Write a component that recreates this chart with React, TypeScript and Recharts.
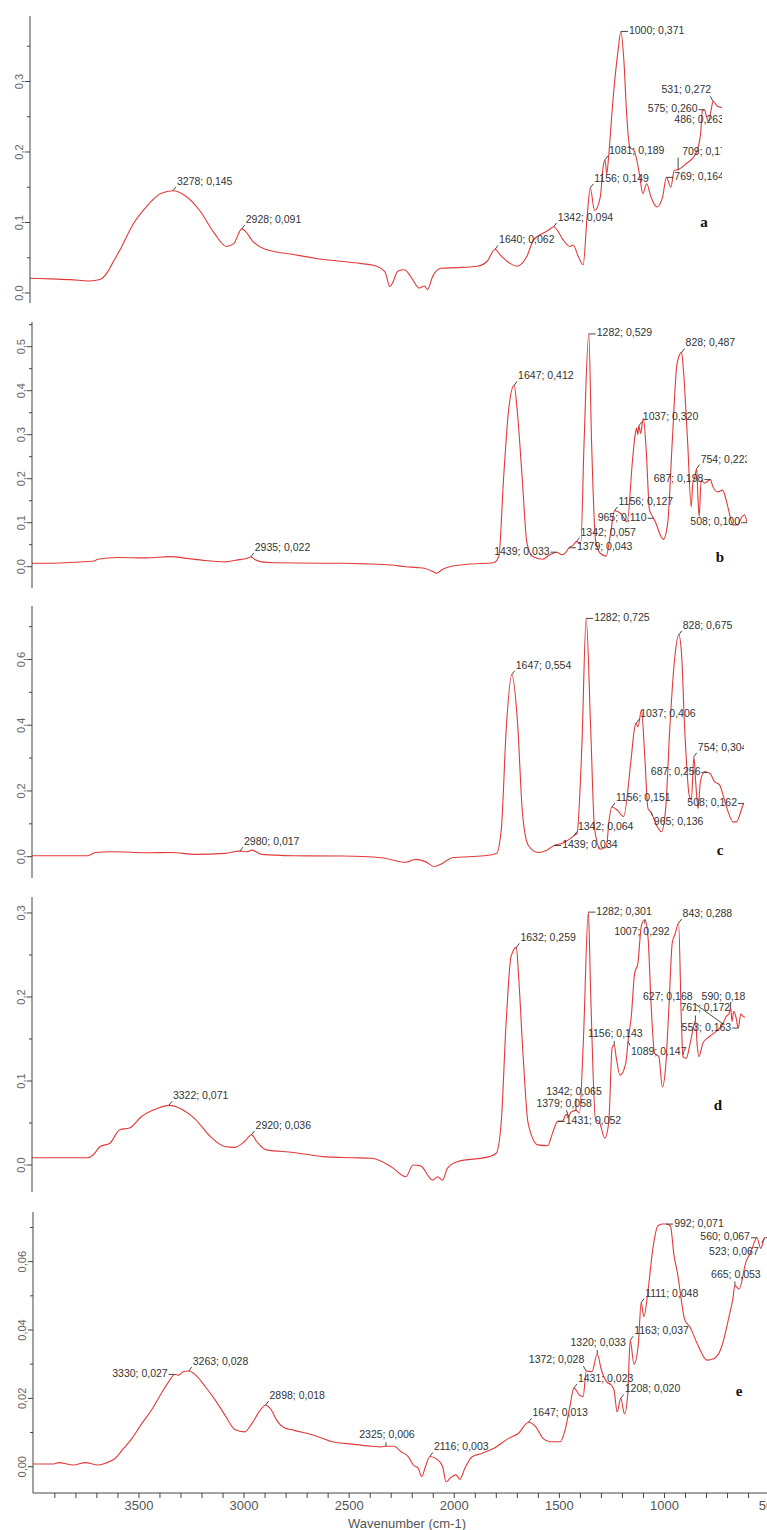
import React from 'react';
import { ComposedChart, Line, Scatter, XAxis, YAxis } from 'recharts';

const LINE_COLOR = '#e23a3a';
const INK = '#333';
const AXIS = '#444';
const SANS = "'Liberation Sans', Arial, sans-serif";
const SERIF = "'Liberation Serif', 'Times New Roman', serif";

// ---------- spectrum a ----------
const waveA = [4005, 3900, 3800, 3700, 3650, 3610, 3586, 3540, 3488, 3414, 3340, 3216, 3142, 3068, 3006, 2969, 2908, 2871, 2809, 2673, 2550, 2427, 2328, 2254, 2200, 2175, 2160, 2135, 2101, 2068, 2025, 2000, 1983, 1958, 1916, 1835, 1731, 1680, 1614, 1564, 1529, 1478, 1445, 1394, 1369, 1293, 1260, 1243, 1217, 1192, 1172, 1134, 1105, 1090, 1072, 1063, 1041, 1015, 985, 970, 955, 933, 906, 889, 869, 847, 817, 788, 746, 729, 670, 620, 595, 586, 565, 553, 540, 510];
const absA = [0.021, 0.020, 0.019, 0.017, 0.019, 0.030, 0.042, 0.065, 0.094, 0.122, 0.141, 0.138, 0.117, 0.085, 0.066, 0.070, 0.087, 0.073, 0.062, 0.055, 0.049, 0.045, 0.042, 0.039, 0.030, 0.009, 0.015, 0.031, 0.033, 0.023, 0.007, 0.010, 0.005, 0.023, 0.035, 0.036, 0.038, 0.045, 0.054, 0.042, 0.038, 0.052, 0.075, 0.085, 0.089, 0.075, 0.066, 0.068, 0.052, 0.040, 0.108, 0.117, 0.136, 0.180, 0.169, 0.192, 0.272, 0.343, 0.330, 0.250, 0.207, 0.202, 0.169, 0.141, 0.155, 0.136, 0.122, 0.136, 0.150, 0.174, 0.183, 0.197, 0.225, 0.258, 0.250, 0.244, 0.262, 0.265];
const peakWaveA = [3278, 2928, 1640, 1342, 1156, 1081, 1000, 769, 709, 575, 531, 486];
const peakAbsA = [0.145, 0.091, 0.062, 0.094, 0.149, 0.189, 0.371, 0.164, 0.175, 0.260, 0.272, 0.263];
const peakPlaceA = ['ur', 'ur', 'ur', 'ur', 'ur', 'ur', 'r', 'r', 'tallUp', 'l', 'ul', 'belowLeft'];

// ---------- spectrum b ----------
const waveB = [4005, 3900, 3800, 3700, 3684, 3588, 3450, 3326, 3250, 3157, 3062, 2990, 2960, 2910, 2883, 2823, 2600, 2488, 2345, 2250, 2177, 2120, 2082, 2040, 2026, 2000, 1962, 1866, 1747, 1722, 1698, 1674, 1632, 1608, 1584, 1555, 1508, 1472, 1413, 1395, 1360, 1321, 1305, 1268, 1249, 1225, 1197, 1173, 1125, 1094, 1068, 1055, 1048, 1042, 1028, 1015, 1001, 985, 953, 928, 917, 896, 874, 850, 819, 798, 781, 773, 765, 748, 742, 732, 716, 675, 651, 627, 610, 594, 578, 553, 537, 520];
const absB = [0.008, 0.008, 0.010, 0.013, 0.017, 0.021, 0.020, 0.023, 0.019, 0.014, 0.011, 0.016, 0.018, 0.015, 0.011, 0.009, 0.008, 0.008, 0.006, 0.004, 0.000, -0.002, -0.004, -0.012, -0.015, -0.007, 0.000, 0.006, 0.009, 0.023, 0.205, 0.356, 0.356, 0.205, 0.053, 0.023, 0.017, 0.027, 0.027, 0.032, 0.048, 0.053, 0.280, 0.280, 0.061, 0.030, 0.024, 0.083, 0.121, 0.102, 0.242, 0.300, 0.315, 0.300, 0.303, 0.337, 0.265, 0.129, 0.098, 0.068, 0.062, 0.098, 0.280, 0.462, 0.447, 0.280, 0.136, 0.189, 0.200, 0.159, 0.114, 0.197, 0.190, 0.182, 0.170, 0.174, 0.152, 0.121, 0.095, 0.095, 0.110, 0.118];
const peakWaveB = [2935, 1647, 1439, 1379, 1342, 1282, 1156, 1037, 965, 828, 754, 687, 508];
const peakAbsB = [0.022, 0.412, 0.033, 0.043, 0.057, 0.529, 0.127, 0.320, 0.110, 0.487, 0.223, 0.198, 0.100];
const peakPlaceB = ['ur', 'ur', 'l', 'r', 'ur', 'r', 'ur', 'ur', 'l', 'ur', 'ur', 'l', 'l'];

// ---------- spectrum c ----------
const waveC = [4000, 3725, 3689, 3605, 3437, 3318, 3197, 3053, 2946, 2921, 2874, 2718, 2478, 2286, 2166, 2118, 2071, 2027, 1986, 1939, 1783, 1722, 1698, 1674, 1619, 1595, 1566, 1518, 1475, 1399, 1360, 1327, 1303, 1260, 1241, 1212, 1183, 1170, 1130, 1099, 1063, 1045, 1028, 1011, 995, 979, 937, 913, 892, 872, 848, 815, 799, 777, 766, 745, 733, 722, 701, 676, 652, 627, 611, 586, 562, 545, 529, 513];
const absC = [0.003, 0.003, 0.013, 0.015, 0.012, 0.013, 0.007, 0.010, 0.015, 0.020, 0.007, 0.003, 0.002, -0.003, -0.017, -0.008, -0.015, -0.030, -0.020, -0.003, 0.003, 0.010, 0.086, 0.390, 0.411, 0.137, 0.035, 0.013, 0.020, 0.041, 0.055, 0.071, 0.340, 0.390, 0.086, 0.023, 0.030, 0.110, 0.142, 0.122, 0.289, 0.390, 0.395, 0.446, 0.309, 0.147, 0.096, 0.076, 0.147, 0.390, 0.603, 0.624, 0.390, 0.188, 0.172, 0.228, 0.147, 0.228, 0.259, 0.254, 0.228, 0.218, 0.188, 0.137, 0.106, 0.106, 0.127, 0.157];
const peakWaveC = [2980, 1647, 1439, 1342, 1282, 1156, 1037, 965, 828, 754, 687, 508];
const peakAbsC = [0.017, 0.554, 0.034, 0.064, 0.725, 0.151, 0.406, 0.136, 0.675, 0.304, 0.256, 0.162];
const peakPlaceC = ['ur', 'ur', 'r', 'ur', 'r', 'ur', 'ur', 'dr', 'ur', 'ur', 'l', 'l'];

// ---------- spectrum d ----------
const waveD = [3988, 3716, 3691, 3656, 3609, 3561, 3514, 3454, 3382, 3264, 3192, 3121, 3050, 3002, 2954, 2895, 2848, 2717, 2574, 2431, 2336, 2241, 2170, 2134, 2098, 2039, 2015, 1991, 1968, 1920, 1765, 1730, 1706, 1682, 1658, 1622, 1599, 1575, 1527, 1480, 1456, 1409, 1390, 1366, 1325, 1306, 1271, 1247, 1230, 1202, 1183, 1166, 1147, 1128, 1100, 1073, 1057, 1041, 1024, 992, 976, 960, 939, 922, 906, 890, 874, 860, 830, 822, 806, 790, 774, 752, 744, 725, 692, 660, 611, 598, 583, 575, 563, 540, 530, 520];
const absD = [0.0087, 0.0087, 0.012, 0.022, 0.026, 0.042, 0.044, 0.058, 0.067, 0.067, 0.054, 0.034, 0.022, 0.021, 0.028, 0.028, 0.018, 0.015, 0.010, 0.0087, 0.008, -0.002, -0.014, 0.000, -0.001, -0.018, -0.014, -0.018, -0.004, 0.004, 0.010, 0.014, 0.050, 0.169, 0.248, 0.228, 0.129, 0.050, 0.024, 0.023, 0.038, 0.052, 0.060, 0.063, 0.062, 0.149, 0.208, 0.054, 0.052, 0.032, 0.050, 0.140, 0.129, 0.107, 0.121, 0.177, 0.228, 0.240, 0.285, 0.272, 0.188, 0.133, 0.129, 0.093, 0.117, 0.188, 0.264, 0.275, 0.177, 0.129, 0.127, 0.141, 0.160, 0.141, 0.129, 0.145, 0.153, 0.159, 0.177, 0.180, 0.171, 0.183, 0.175, 0.180, 0.177, 0.176];
const peakWaveD = [3322, 2920, 1632, 1431, 1379, 1342, 1282, 1156, 1089, 1007, 843, 761, 627, 590, 553];
const peakAbsD = [0.071, 0.036, 0.259, 0.052, 0.058, 0.065, 0.301, 0.143, 0.147, 0.292, 0.288, 0.172, 0.168, 0.187, 0.163];
const peakPlaceD = ['ur', 'ur', 'ur', 'r', 'leftUp', 'tallCenter', 'r', 'u', 'dr', 'belowCenter', 'ur', 'shortUp', 'diagonal', 'markUp', 'l'];

// ---------- spectrum e ----------
const waveE = [4004, 3905, 3882, 3812, 3754, 3696, 3661, 3614, 3579, 3533, 3486, 3440, 3393, 3358, 3312, 3288, 3230, 3184, 3137, 3091, 3044, 2998, 2962, 2928, 2870, 2846, 2811, 2765, 2672, 2579, 2485, 2392, 2350, 2288, 2253, 2218, 2195, 2171, 2155, 2137, 2078, 2055, 2039, 2015, 1992, 1973, 1950, 1915, 1869, 1811, 1741, 1694, 1613, 1578, 1543, 1496, 1473, 1450, 1404, 1387, 1345, 1300, 1276, 1253, 1240, 1225, 1190, 1175, 1145, 1124, 1098, 1078, 1054, 1031, 1010, 972, 955, 938, 903, 880, 845, 798, 763, 728, 693, 675, 645, 612, 589, 542, 507, 485];
const absE = [0.0008, 0.0008, 0.0012, 0.0005, 0.0012, 0.0005, 0.001, 0.0024, 0.0049, 0.0083, 0.0127, 0.0166, 0.0215, 0.0249, 0.0268, 0.0278, 0.0268, 0.0234, 0.0195, 0.0151, 0.0109, 0.0102, 0.0127, 0.0161, 0.0166, 0.0137, 0.0115, 0.0107, 0.0093, 0.0073, 0.0066, 0.006, 0.0058, 0.006, 0.0044, 0.0029, 0.0005, -0.0005, -0.0029, 0.0, 0.002, 0.0, -0.0044, -0.0031, -0.0024, -0.0037, -0.0005, 0.0029, 0.0039, 0.0054, 0.0083, 0.0098, 0.0117, 0.0083, 0.0073, 0.0073, 0.0107, 0.0176, 0.021, 0.0205, 0.0278, 0.0283, 0.0249, 0.0239, 0.0225, 0.016, 0.0155, 0.021, 0.030, 0.0361, 0.0439, 0.0517, 0.0644, 0.0705, 0.071, 0.0705, 0.062, 0.0566, 0.0429, 0.041, 0.0361, 0.0312, 0.0317, 0.0351, 0.0439, 0.049, 0.052, 0.060, 0.0629, 0.0639, 0.067, 0.066];
const peakWaveE = [3330, 3263, 2898, 2325, 2116, 1647, 1431, 1372, 1320, 1208, 1163, 1111, 992, 665, 560, 523];
const peakAbsE = [0.027, 0.028, 0.018, 0.006, 0.003, 0.013, 0.023, 0.028, 0.033, 0.020, 0.037, 0.048, 0.071, 0.053, 0.067, 0.067];
const peakPlaceE = ['l', 'ur', 'ur', 'u', 'ur', 'ur', 'ur', 'ul', 'u', 'ur', 'ur', 'ur', 'r', 'u', 'l', 'dl'];

// ---------- axis ticks ----------
const yTicksA = [0, 0.05, 0.1, 0.15, 0.2, 0.25, 0.3, 0.35];
const yLabelsA = [0, 0.1, 0.2, 0.3];
const yTicksB = [0, 0.05, 0.1, 0.15, 0.2, 0.25, 0.3, 0.35, 0.4, 0.45, 0.5, 0.55];
const yLabelsB = [0, 0.1, 0.2, 0.3, 0.4, 0.5];
const yTicksC = [0, 0.1, 0.2, 0.3, 0.4, 0.5, 0.6, 0.7];
const yLabelsC = [0, 0.2, 0.4, 0.6];
const yTicksD = [0, 0.05, 0.1, 0.15, 0.2, 0.25, 0.3];
const yLabelsD = [0, 0.1, 0.2, 0.3];
const yTicksE = [0, 0.01, 0.02, 0.03, 0.04, 0.05, 0.06, 0.07];
const yLabelsE = [0, 0.02, 0.04, 0.06];
const xTicksE = [3900, 3800, 3700, 3600, 3500, 3400, 3300, 3200, 3100, 3000, 2900, 2800, 2700, 2600, 2500, 2400, 2300, 2200, 2100, 2000, 1900, 1800, 1700, 1600, 1500, 1400, 1300, 1200, 1100, 1000, 900, 800, 700, 600, 500];
const xLabelsE = [3500, 3000, 2500, 2000, 1500, 1000, 500];

// ---------- label placement (text offset, anchor, leader end) ----------
type Place = { dx: number; dy: number; anchor: 'start' | 'middle' | 'end'; lx: number; ly: number };
const PLACES: Record<string, Place> = {
  ur: { dx: 4, dy: -6, anchor: 'start', lx: 3, ly: -4 },
  r: { dx: 8, dy: 2.5, anchor: 'start', lx: 7, ly: 0 },
  l: { dx: -7, dy: 2.5, anchor: 'end', lx: -6, ly: 0 },
  ul: { dx: -2, dy: -8, anchor: 'end', lx: -3, ly: -5 },
  u: { dx: 1, dy: -8, anchor: 'middle', lx: 0, ly: -4 },
  dr: { dx: 3, dy: 13, anchor: 'start', lx: 2, ly: 4 },
  dl: { dx: -6, dy: 17, anchor: 'end', lx: -3, ly: 5 },
  tallUp: { dx: 4, dy: -15, anchor: 'start', lx: 0, ly: -12 },
  belowLeft: { dx: 2, dy: 15, anchor: 'end', lx: 0, ly: 0 },
  leftUp: { dx: -32, dy: -9, anchor: 'start', lx: -2, ly: -6 },
  tallCenter: { dx: -2, dy: -15, anchor: 'middle', lx: 0, ly: -12 },
  belowCenter: { dx: -3, dy: 15, anchor: 'middle', lx: 0, ly: 4 },
  shortUp: { dx: -15, dy: -10, anchor: 'start', lx: 0, ly: -5 },
  diagonal: { dx: -80, dy: -24, anchor: 'start', lx: -28, ly: -20 },
  markUp: { dx: -29, dy: -8, anchor: 'start', lx: 0, ly: -6 },
};

type Row = { w: number; v: number };
type Peak = Row & { place: string };

function buildRows(waves: number[], vals: number[], pw: number[], pv: number[]): Row[] {
  const rows: Row[] = waves.map((w, i) => ({ w, v: vals[i] }));
  pw.forEach((w, i) => {
    const k = rows.findIndex((r) => r.w === w);
    if (k >= 0) rows[k].v = pv[i];
    else rows.push({ w, v: pv[i] });
  });
  return rows.sort((a, b) => b.w - a.w);
}

function buildPeaks(pw: number[], pv: number[], places: string[]): Peak[] {
  return pw.map((w, i) => ({ w, v: pv[i], place: places[i] }));
}

const fmt = (v: number, d: number) => v.toFixed(d).replace('.', ',');

function PeakMark(props: any) {
  const { cx, cy, payload } = props;
  if (cx == null || cy == null || !payload) return null;
  const p = PLACES[payload.place] || PLACES.ur;
  return (
    <g>
      {(p.lx !== 0 || p.ly !== 0) && (
        <line x1={cx} y1={cy} x2={cx + p.lx} y2={cy + p.ly} stroke={INK} strokeWidth={0.9} />
      )}
      <text
        x={cx + p.dx}
        y={cy + p.dy}
        textAnchor={p.anchor}
        fontSize={10.5}
        fontFamily={SANS}
        fill={INK}
      >
        {`${payload.w}; ${fmt(payload.v, 3)}`}
      </text>
    </g>
  );
}

const yTickRenderer = (labels: number[], digits: number) => (props: any) => {
  const { x, y, payload } = props;
  const v = payload.value as number;
  const major = labels.some((l) => Math.abs(l - v) < 1e-9);
  const tx = x - 7;
  return (
    <g>
      <line x1={x} x2={x - (major ? 5 : 3)} y1={y} y2={y} stroke={AXIS} strokeWidth={1} />
      {major && (
        <text
          x={tx}
          y={y}
          transform={`rotate(-90 ${tx} ${y})`}
          textAnchor="middle"
          fontSize={11}
          fontFamily={SANS}
          fill="#666"
        >
          {fmt(v, digits)}
        </text>
      )}
    </g>
  );
};

const xTickRenderer = (labels: number[]) => (props: any) => {
  const { x, y, payload } = props;
  const v = payload.value as number;
  const major = labels.includes(v);
  return (
    <g>
      <line x1={x} x2={x} y1={y} y2={y + 5} stroke={AXIS} strokeWidth={1} />
      {major && (
        <text x={x} y={y + 17} textAnchor="middle" fontSize={13} fontFamily={SANS} fill="#555">
          {v}
        </text>
      )}
    </g>
  );
};

type PanelCfg = {
  letter: string;
  letterX: number;
  letterY: number;
  axisX: number;
  plotTop: number;
  plotBottom: number;
  plotRight: number;
  xDomain: [number, number];
  yDomain: [number, number];
  yTicks: number[];
  yLabels: number[];
  yDigits: number;
  rows: Row[];
  peaks: Peak[];
  xTicks?: number[];
  xLabels?: number[];
};

const panels: PanelCfg[] = [
  {
    letter: 'a', letterX: 704, letterY: 222,
    axisX: 30, plotTop: 16, plotBottom: 303, plotRight: 722,
    xDomain: [486, 4005], yDomain: [-0.0142, 0.3929],
    yTicks: yTicksA, yLabels: yLabelsA, yDigits: 1,
    rows: buildRows(waveA, absA, peakWaveA, peakAbsA),
    peaks: buildPeaks(peakWaveA, peakAbsA, peakPlaceA),
  },
  {
    letter: 'b', letterX: 720, letterY: 557,
    axisX: 32, plotTop: 322, plotBottom: 588, plotRight: 747,
    xDomain: [508, 4005], yDomain: [-0.0484, 0.5561],
    yTicks: yTicksB, yLabels: yLabelsB, yDigits: 1,
    rows: buildRows(waveB, absB, peakWaveB, peakAbsB),
    peaks: buildPeaks(peakWaveB, peakAbsB, peakPlaceB),
  },
  {
    letter: 'c', letterX: 720, letterY: 850,
    axisX: 32, plotTop: 606, plotBottom: 878, plotRight: 744,
    xDomain: [508, 4000], yDomain: [-0.0648, 0.7627],
    yTicks: yTicksC, yLabels: yLabelsC, yDigits: 1,
    rows: buildRows(waveC, absC, peakWaveC, peakAbsC),
    peaks: buildPeaks(peakWaveC, peakAbsC, peakPlaceC),
  },
  {
    letter: 'd', letterX: 718, letterY: 1105,
    axisX: 32, plotTop: 897, plotBottom: 1192, plotRight: 745,
    xDomain: [520, 3988], yDomain: [-0.0321, 0.319],
    yTicks: yTicksD, yLabels: yLabelsD, yDigits: 1,
    rows: buildRows(waveD, absD, peakWaveD, peakAbsD),
    peaks: buildPeaks(peakWaveD, peakAbsD, peakPlaceD),
  },
  {
    letter: 'e', letterX: 739, letterY: 1391,
    axisX: 33, plotTop: 1212, plotBottom: 1493, plotRight: 774,
    xDomain: [479, 4004], yDomain: [-0.00769, 0.07453],
    yTicks: yTicksE, yLabels: yLabelsE, yDigits: 2,
    rows: buildRows(waveE, absE, peakWaveE, peakAbsE),
    peaks: buildPeaks(peakWaveE, peakAbsE, peakPlaceE),
    xTicks: xTicksE, xLabels: xLabelsE,
  },
];

const X_AXIS_H = 30;
const PAD = 4;

function Panel({ cfg }: { cfg: PanelCfg }) {
  const hasX = !!cfg.xTicks;
  const top = cfg.plotTop - PAD;
  const height = cfg.plotBottom - top + (hasX ? X_AXIS_H : PAD);
  return (
    <>
      <div style={{ position: 'absolute', left: 0, top }}>
        <ComposedChart
          width={cfg.plotRight}
          height={height}
          data={cfg.rows}
          margin={{ top: PAD, right: 0, bottom: hasX ? 0 : PAD, left: 0 }}
        >
          <XAxis
            type="number"
            dataKey="w"
            domain={cfg.xDomain}
            reversed
            allowDataOverflow
            hide={!hasX}
            height={X_AXIS_H}
            ticks={cfg.xTicks}
            interval={0}
            tickSize={0}
            tickMargin={0}
            tickLine={false}
            axisLine={{ stroke: AXIS, strokeWidth: 1 }}
            tick={hasX ? xTickRenderer(cfg.xLabels || []) : false}
          />
          <YAxis
            type="number"
            domain={cfg.yDomain}
            allowDataOverflow
            width={cfg.axisX}
            ticks={cfg.yTicks}
            interval={0}
            tickSize={0}
            tickMargin={0}
            tickLine={false}
            axisLine={{ stroke: AXIS, strokeWidth: 1 }}
            tick={yTickRenderer(cfg.yLabels, cfg.yDigits)}
          />
          <Line
            type="monotone"
            dataKey="v"
            stroke={LINE_COLOR}
            strokeWidth={1.1}
            dot={false}
            activeDot={false}
            isAnimationActive={false}
          />
          <Scatter data={cfg.peaks} dataKey="v" shape={PeakMark} isAnimationActive={false} />
        </ComposedChart>
      </div>
      <div
        style={{
          position: 'absolute',
          left: cfg.letterX,
          top: cfg.letterY,
          transform: 'translate(-50%, -50%)',
          fontFamily: SERIF,
          fontWeight: 'bold',
          fontSize: 15,
          lineHeight: 1,
          color: '#111',
        }}
      >
        {cfg.letter}
      </div>
    </>
  );
}

export default function App() {
  return (
    <div
      style={{
        position: 'absolute',
        left: 0,
        top: 0,
        width: 767,
        height: 1530,
        overflow: 'hidden',
        background: '#fff',
      }}
    >
      {panels.map((cfg) => (
        <Panel key={cfg.letter} cfg={cfg} />
      ))}
      <div
        style={{
          position: 'absolute',
          left: 407,
          top: 1523,
          transform: 'translate(-50%, -50%)',
          fontFamily: SANS,
          fontSize: 13,
          lineHeight: 1,
          color: '#555',
          whiteSpace: 'nowrap',
        }}
      >
        Wavenumber (cm-1)
      </div>
    </div>
  );
}
